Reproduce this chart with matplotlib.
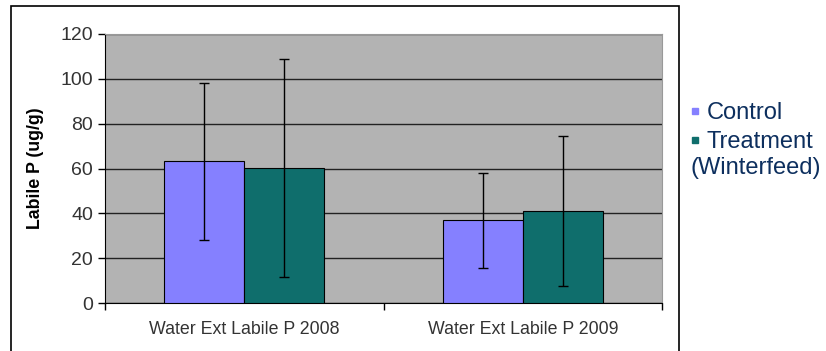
import matplotlib.pyplot as plt
import numpy as np
from matplotlib.patches import Rectangle
from matplotlib.lines import Line2D

plt.rcParams['font.family'] = ['Liberation Sans', 'DejaVu Sans']

categories = ["Water Ext Labile P 2008", "Water Ext Labile P 2009"]
control = [63.3, 37.0]
control_err = [35.0, 21.2]
treatment = [60.3, 41.0]
treatment_err = [48.5, 33.6]
series_names = ["Control", "Treatment"]

fig = plt.figure(figsize=(8.26, 3.51), dpi=100)
ax = fig.add_axes([105 / 826, 1 - 303 / 351, 557 / 826, 269 / 351])

x = np.arange(len(categories)) + 0.5
w = 0.287
ax.set_facecolor('#b3b3b3')
ax.bar(x - w / 2, control, w, color='#8580ff', edgecolor='black', linewidth=0.8, zorder=3,
       yerr=control_err, error_kw=dict(ecolor='black', elinewidth=1, capsize=3.5, capthick=1))
ax.bar(x + w / 2, treatment, w, color='#0f6e6c', edgecolor='black', linewidth=0.8, zorder=3,
       yerr=treatment_err, error_kw=dict(ecolor='black', elinewidth=1, capsize=3.5, capthick=1))

ax.set_xlim(0, len(categories))
ax.set_ylim(0, 120)
ax.set_yticks(range(0, 121, 20))
ax.yaxis.grid(True, color='#222222', linewidth=1)
ax.set_axisbelow(True)
ax.tick_params(axis='y', labelsize=14, labelcolor='#333333', length=5, width=1)
ax.set_xticks(x)
ax.set_xticklabels(categories)
ax.tick_params(axis='x', which='major', length=0, pad=13, labelsize=12.8, labelcolor='#333333')
ax.set_xticks(np.arange(len(categories) + 1), minor=True)
ax.tick_params(axis='x', which='minor', length=5, width=1)
ax.set_ylabel("Labile P (ug/g)", fontsize=12.8, fontweight='bold', labelpad=12)

for s in ['top', 'right']:
    ax.spines[s].set_color('#999999')
for s in ['left', 'bottom']:
    ax.spines[s].set_color('black')

# legend outside to the right
handles = [Line2D([], [], marker='s', linestyle='', markersize=5, color='#8580ff'),
           Line2D([], [], marker='s', linestyle='', markersize=5, color='#0f6e6c')]
leg = fig.legend(handles, series_names, loc='upper left', bbox_to_anchor=(688 / 826, 1 - 102 / 351),
                 frameon=False, fontsize=17, handlelength=0.6,
                 handletextpad=0.2, labelspacing=0.3, borderpad=0, borderaxespad=0)
for t in leg.get_texts():
    t.set_color('#0d2f5e')
fig.text(690 / 826, 1 - 168 / 351, "(Winterfeed)", fontsize=17, color='#0d2f5e', va='center', ha='left')

# outer frame
fig.patches.append(Rectangle((11 / 826, -0.05), 668 / 826, 1.05 - 6 / 351, transform=fig.transFigure,
                             fill=False, edgecolor='black', linewidth=1.2))

fig.savefig("out.png", dpi=100)
